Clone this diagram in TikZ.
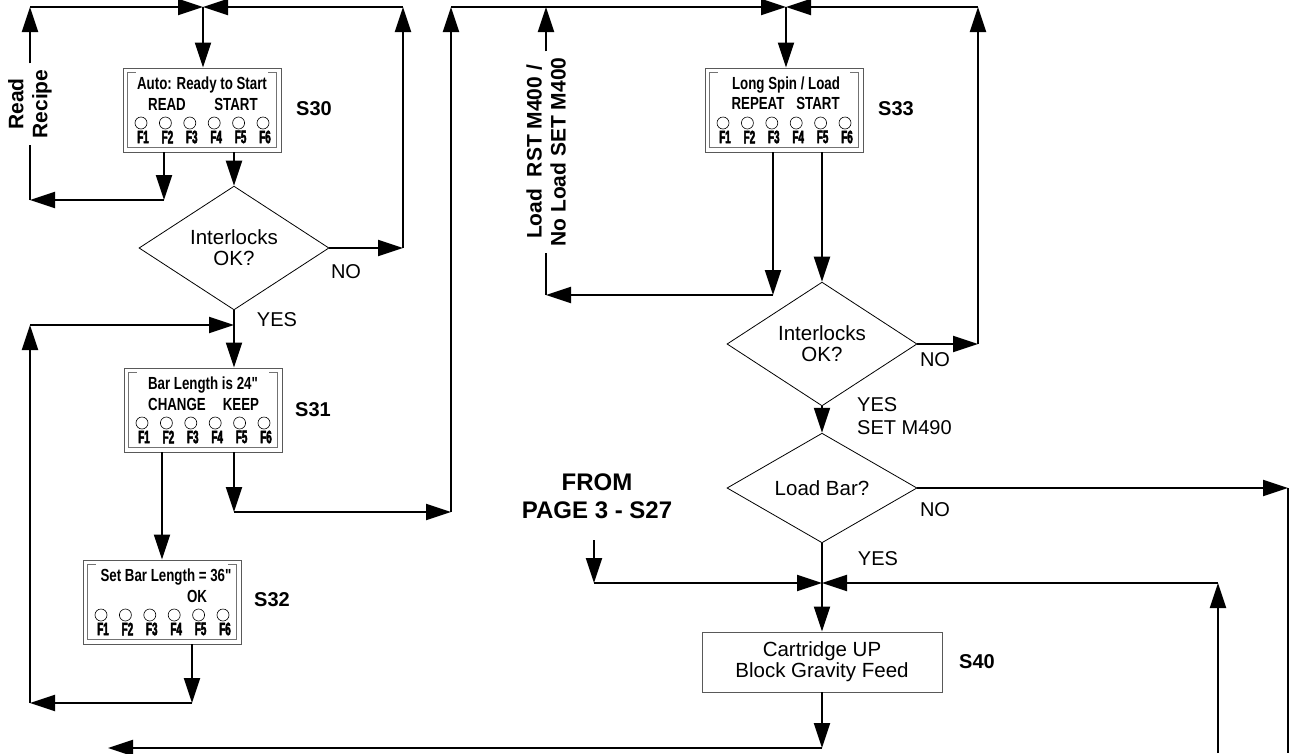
\documentclass[tikz,border=0pt]{standalone}
\usepackage{fontspec}
\setmainfont{Liberation Sans}
\newfontfamily\lcdfont[FakeStretch=0.76]{Liberation Sans Bold}
\newfontfamily\fkfont[FakeStretch=0.55,FakeBold=2.5]{Liberation Sans Bold}
\usetikzlibrary{arrows.meta,shapes.geometric}

\tikzset{
  panel/.style={draw=black!65, line width=0.9pt, minimum width=158pt, minimum height=84pt, inner sep=0pt},
  lcdin/.style={draw=black!55, line width=0.9pt},
  lcdtext/.style={font=\lcdfont\fontsize{17.5}{18}\selectfont, inner sep=0pt},
  led/.style={circle, draw=black, line width=0.6pt, minimum size=12pt, inner sep=0pt},
  fkey/.style={font=\fkfont\fontsize{18}{18}\selectfont, inner sep=0pt},
  decide/.style={diamond, draw, line width=0.8pt, minimum width=190pt, minimum height=96pt, inner sep=0pt, align=center, font=\fontsize{20.5}{21}\selectfont},
  action/.style={draw=black!65, line width=0.9pt, minimum width=240pt, minimum height=60pt, align=center, font=\fontsize{20.5}{21}\selectfont},
  tag/.style={font=\bfseries\fontsize{20}{20}\selectfont},
  fromtag/.style={align=center, font=\bfseries\fontsize{24}{28}\selectfont},
  reply/.style={font=\fontsize{20}{20}\selectfont, inner sep=0pt},
  sidenote/.style={rotate=90, align=center, inner sep=6pt, font=\bfseries\fontsize{21}{24}\selectfont},
  flow/.style={line width=2pt, -{Triangle[length=25pt,width=16pt]}},
  wire/.style={line width=2pt}
}

\begin{document}
\begin{tikzpicture}[x=1pt,y=-1pt]
\useasboundingbox (0,0) rectangle (1291,753);

% Auto ready panel
\node[panel] (s30) at (202,110) {};
\node[lcdtext] at (202,85) {Auto: Ready to Start};
\node[lcdtext] at (167,104) {READ};
\node[lcdtext] at (236,104) {START};
\node[tag] at (314,109) {S30};

% Bar length panel
\node[panel] (s31) at (203,410) {};
\node[lcdtext] at (203,385) {Bar Length is 24"};
\node[lcdtext] at (177,404) {CHANGE};
\node[lcdtext] at (241,404) {KEEP};
\node[tag] at (313,410) {S31};

% Set bar length panel
\node[panel] (s32) at (162,602) {};
\node[lcdtext] at (166,577) {Set Bar Length = 36"};
\node[lcdtext] at (197,596) {OK};
\node[tag] at (272,600) {S32};

% Long spin panel
\node[panel] (s33) at (784,110) {};
\node[lcdtext] at (786,85) {Long Spin / Load};
\node[lcdtext] at (758,103) {REPEAT};
\node[lcdtext] at (818,103) {START};
\node[tag] at (896,109) {S33};

% Function keys and frames
\foreach \p/\x/\y in {s30/202/110, s31/203/410, s32/162/602, s33/784/110} {
  \foreach \i in {1,...,6} {
    \node[led] (\p k\i) at ({\x+(\i-3.5)*24.4},\y+13) {};
    \node[fkey] at ({\x+2+(\i-3.5)*24.4},\y+27) {F\i};
  }
  \draw[lcdin] ([shift={(13pt,-5pt)}]\p.north west) -- ([shift={(5pt,-5pt)}]\p.north west)
    -- ([shift={(5pt,5pt)}]\p.south west) -- ([shift={(-5pt,5pt)}]\p.south east)
    -- ([shift={(-5pt,-5pt)}]\p.north east) -- ([shift={(-13pt,-5pt)}]\p.north east);
}

% Decisions
\node[decide] (int1) at (234,248) {Interlocks\\OK?};
\node[decide] (int2) at (822,344) {Interlocks\\OK?};
\node[decide] (loadbar) at (822,488) {Load Bar?};

% Cartridge step
\node[action] (s40) at (822,662) {Cartridge UP\\Block Gravity Feed};
\node[tag] at (977,662) {S40};

% Side notes
\node[sidenote] (readlbl) at (30,104) {Read\\Recipe};
\node[sidenote] (loadlbl) at (546,152) {Load\ \ RST M400 /\\No Load SET M400};
\node[fromtag] (from) at (597,496) {FROM\\PAGE 3 - S27};

% Answers
\node[reply] at (346,272) {NO};
\node[reply] at (277,320) {YES};
\node[reply] at (935,360) {NO};
\node[reply, anchor=west] at (857,405) {YES};
\node[reply, anchor=west] at (857,428) {SET M490};
\node[reply] at (935,510) {NO};
\node[reply] at (878,559) {YES};

% Junctions and corners
\coordinate (jA) at (203,7);
\coordinate (jB) at (786,7);
\coordinate (jC) at (234,325);
\coordinate (jD) at (822,583);
\coordinate (rr1) at (164,200);
\coordinate (rr2) at (30,200);
\coordinate (rr3) at (30,7);
\coordinate (no1) at (403,248);
\coordinate (no1t) at (403,7);
\coordinate (bk1) at (192,703);
\coordinate (bk2) at (30,703);
\coordinate (bk3) at (30,325);
\coordinate (kp1) at (234,512);
\coordinate (kp2) at (451,512);
\coordinate (kp3) at (451,7);
\coordinate (rp1) at (773,295);
\coordinate (rp2) at (546,295);
\coordinate (rp3) at (546,7);
\coordinate (no2) at (978,344);
\coordinate (no2t) at (978,7);
\coordinate (no3) at (1288,488);
\coordinate (no3b) at (1288,753);
\coordinate (fr1) at (594,540);
\coordinate (fr2) at (594,583);
\coordinate (rl1) at (1218,753);
\coordinate (rl2) at (1218,583);
\coordinate (ex1) at (822,748);
\coordinate (ex2) at (108,748);

% Left half connectors
\draw[flow] (jA) -- (s30.north -| jA);
\draw[flow] (s30.south -| rr1) -- (rr1);
\draw[flow] (rr1) -- (rr2);
\draw[flow] (rr2) -- (readlbl) -- (rr3);
\draw[flow] (rr3) -- (jA);
\draw[flow] (s30.south -| int1.north) -- (int1.north);
\draw[flow] (int1.east) -- (no1);
\draw[flow] (no1) -- (no1t);
\draw[flow] (no1t) -- (jA);
\draw[flow] (int1.south) -- (int1.south |- s31.north);
\draw[flow] (s31.south -| s32.north) -- (s32.north);
\draw[flow] (s32.south -| bk1) -- (bk1);
\draw[flow] (bk1) -- (bk2);
\draw[flow] (bk2) -- (bk3);
\draw[flow] (bk3) -- (jC);
\draw[flow] (s31.south -| kp1) -- (kp1);
\draw[flow] (kp1) -- (kp2);
\draw[flow] (kp2) -- (kp3);
\draw[flow] (kp3) -- (jB);

% Right half connectors
\draw[flow] (jB) -- (s33.north -| jB);
\draw[flow] (s33.south -| rp1) -- (rp1);
\draw[flow] (rp1) -- (rp2);
\draw[flow] (rp2) -- (loadlbl) -- (rp3);
\draw[flow] (s33.south -| int2.north) -- (int2.north);
\draw[flow] (int2.east) -- (no2);
\draw[flow] (no2) -- (no2t);
\draw[flow] (no2t) -- (jB);
\draw[flow] (int2.south) -- (loadbar.north);
\draw[flow] (loadbar.east) -- (no3);
\draw[wire] (no3) -- (no3b);
\draw[flow] (loadbar.south) -- (s40.north);
\draw[flow] (fr1) -- (fr2);
\draw[flow] (fr2) -- (jD);
\draw[flow] (rl1) -- (rl2);
\draw[flow] (rl2) -- (jD);
\draw[flow] (s40.south) -- (ex1);
\draw[flow] (ex1) -- (ex2);
\end{tikzpicture}
\end{document}
